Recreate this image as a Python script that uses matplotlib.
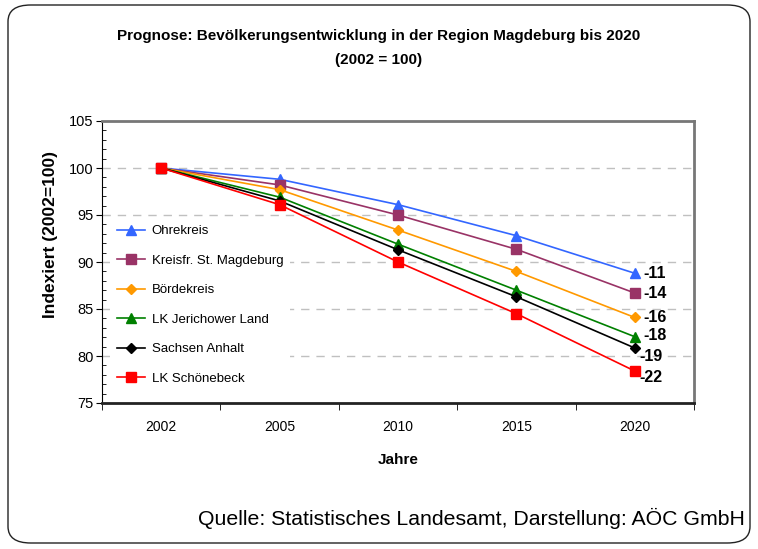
import matplotlib
matplotlib.use("Agg")
import matplotlib.pyplot as plt
from matplotlib.patches import FancyBboxPatch
from matplotlib.ticker import MultipleLocator, FixedLocator, NullFormatter

years = ["2002", "2005", "2010", "2015", "2020"]

ohrekreis = [100, 98.8, 96.1, 92.8, 88.8]
magdeburg = [100, 98.2, 95.0, 91.35, 86.7]
boerdekreis = [100, 97.7, 93.4, 89.0, 84.1]
jerichower = [100, 96.9, 91.9, 87.0, 82.05]
sachsen_anhalt = [100, 96.5, 91.3, 86.3, 80.85]
schoenebeck = [100, 96.1, 90.0, 84.5, 78.4]

names = ["Ohrekreis", "Kreisfr. St. Magdeburg", "Bördekreis",
         "LK Jerichower Land", "Sachsen Anhalt", "LK Schönebeck"]
end_labels = ["-11", "-14", "-16", "-18", "-19", "-22"]

series = [ohrekreis, magdeburg, boerdekreis, jerichower, sachsen_anhalt,
          schoenebeck]
colors = ["#3366FF", "#993366", "#FF9900", "#008000", "#000000", "#FF0000"]
markers = ["^", "s", "D", "^", "D", "s"]
msizes = [6.5, 6.5, 5.5, 6.5, 5.0, 7.0]
# offsets (pixels) of the end labels relative to the last point
label_off = [(9, 0), (9, 0), (9, 0), (9, 1), (5, -8), (5, -6)]

plt.rcParams["font.family"] = ["Liberation Sans", "DejaVu Sans"]

fig = plt.figure(figsize=(7.58, 5.49), dpi=100)

# rounded outer frame
frame = FancyBboxPatch((8 / 758, 6 / 549), 742 / 758, 538 / 549,
                       boxstyle="round,pad=0,rounding_size=0.03",
                       transform=fig.transFigure, fill=False,
                       edgecolor="#222222", linewidth=1.0)
fig.patches.append(frame)

ax = fig.add_axes([102 / 758, 1 - 403 / 549, 592 / 758, 282 / 549])
x = list(range(len(years)))

for vals, name, c, m, ms in zip(series, names, colors, markers, msizes):
    ax.plot(x, vals, color=c, marker=m, markersize=ms, linewidth=1.2,
            label=name, markeredgecolor=c, zorder=3)

for vals, lab, off in zip(series, end_labels, label_off):
    ax.annotate(lab, (x[-1], vals[-1]), xytext=off,
                textcoords="offset pixels", ha="left", va="center",
                fontsize=11.5, fontweight="bold")

ax.set_xlim(-0.5, len(years) - 0.5)
ax.set_ylim(75, 105)
ax.yaxis.set_major_locator(MultipleLocator(5))
ax.yaxis.set_minor_locator(MultipleLocator(1))
ax.tick_params(axis="y", which="major", direction="out", length=4,
               labelsize=10.5, pad=2)
ax.tick_params(axis="y", which="minor", direction="in", length=3)
ax.set_xticks(x)
ax.set_xticklabels(years, fontsize=10)
ax.tick_params(axis="x", which="major", length=0, pad=12)
ax.xaxis.set_minor_locator(FixedLocator([i + 0.5 for i in range(-1, len(years))]))
ax.xaxis.set_minor_formatter(NullFormatter())
ax.tick_params(axis="x", which="minor", direction="out", length=5)

for yv in [80, 85, 90, 95, 100]:
    ax.axhline(yv, color="#C0C0C0", linestyle=(0, (6, 5)), linewidth=1.0,
               zorder=0)

ax.spines["left"].set_color("black")
ax.spines["bottom"].set_color("#222222")
ax.spines["bottom"].set_linewidth(2)
ax.spines["top"].set_color("#777777")
ax.spines["top"].set_linewidth(2)
ax.spines["right"].set_color("#777777")
ax.spines["right"].set_linewidth(2)

ax.set_ylabel("Indexiert (2002=100)", fontsize=12.5, fontweight="bold")
ax.yaxis.set_label_coords(-0.074, 0.596)
ax.set_xlabel("Jahre", fontsize=11, fontweight="bold", labelpad=14)

leg = ax.legend(loc="upper left", bbox_to_anchor=(0.014, 0.655), frameon=True,
                facecolor="white", edgecolor="none", framealpha=1,
                fontsize=9.5, handlelength=2.1, labelspacing=1.31,
                borderpad=0.5, borderaxespad=0, handletextpad=0.53)
leg.get_frame().set_linewidth(0)
# legend background hides the gridlines but not the data lines
leg.set_zorder(1.5)

fig.text(0.5, 1 - 36 / 549,
         "Prognose: Bevölkerungsentwicklung in der Region Magdeburg bis 2020",
         ha="center", va="center", fontsize=11, fontweight="bold")
fig.text(0.5, 1 - 60 / 549, "(2002 = 100)", ha="center", va="center",
         fontsize=11, fontweight="bold")
fig.text(745 / 758, 1 - 518 / 549,
         "Quelle: Statistisches Landesamt, Darstellung: AÖC GmbH",
         ha="right", va="center", fontsize=15.3)

fig.savefig("out.png", dpi=100)
